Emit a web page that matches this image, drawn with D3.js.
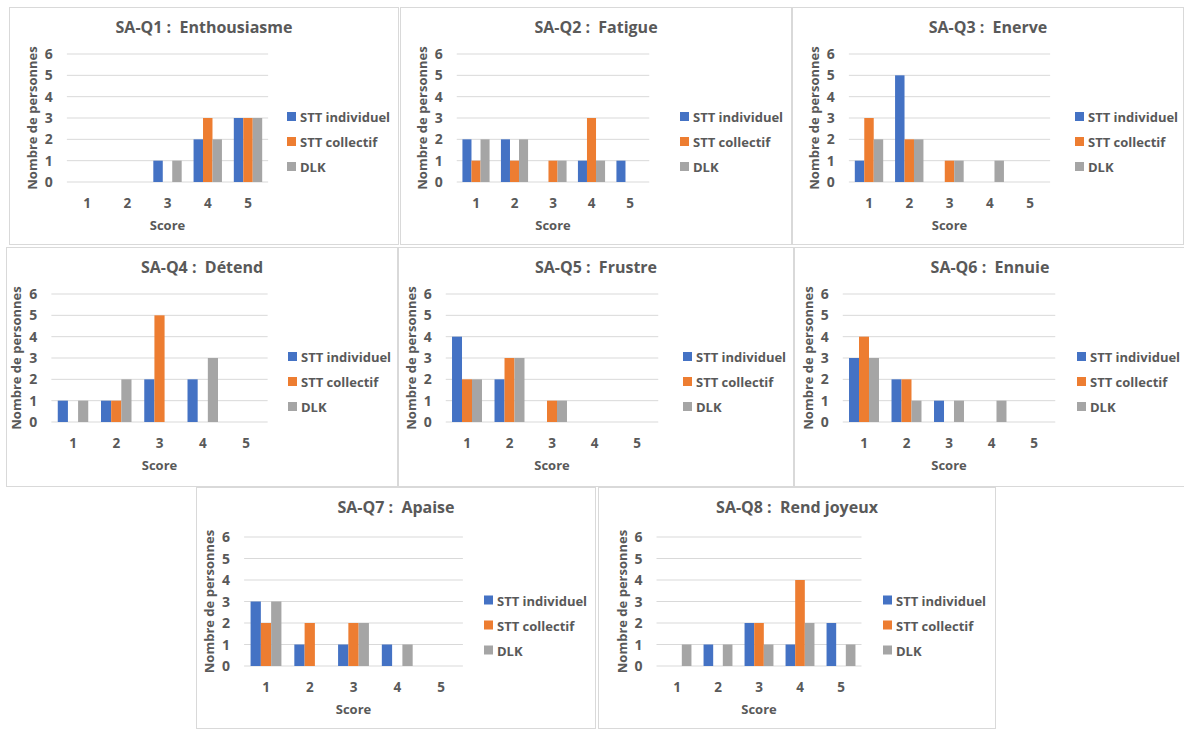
<!DOCTYPE html><html><head><meta charset="utf-8"><script src="https://cdn.jsdelivr.net/npm/d3@7"></script>
<style>body{margin:0;background:#fff}svg{font-family:"Open Sans",sans-serif}text{white-space:pre}</style></head><body>
<script>
const categories=["1","2","3","4","5"];
const seriesNames=["STT individuel","STT collectif","DLK"];
const colors=["#4472C4","#ED7D31","#A5A5A5"];
const yTicks=[0,1,2,3,4,5,6];
const titles=["SA-Q1 :  Enthousiasme","SA-Q2 :  Fatigue","SA-Q3 :  Enerve","SA-Q4 :  Détend","SA-Q5 :  Frustre","SA-Q6 :  Ennuie","SA-Q7 :  Apaise","SA-Q8 :  Rend joyeux"];
const individuel=[[0,0,1,2,3],[2,2,0,1,1],[1,5,0,0,0],[1,1,2,2,0],[4,2,0,0,0],[3,2,1,0,0],[3,1,1,1,0],[0,1,2,1,2]];
const collectif=[[0,0,0,3,3],[1,1,1,3,0],[3,2,1,0,0],[0,1,5,0,0],[2,3,1,0,0],[4,2,0,0,0],[2,2,2,0,0],[0,0,2,4,0]];
const dlk=[[0,0,1,2,3],[2,2,1,1,0],[2,2,1,1,0],[1,2,0,3,0],[2,3,1,0,0],[3,1,1,1,0],[3,0,2,1,0],[1,1,1,2,1]];
const panels=[
 [9,399,7,245,87,248,287,182,54],
 [400,792,7,245,476,630,680,182,54],
 [792,1184,7,245,869,1030,1075,182,54],
 [6,398,247,487,73,246,288,422,294],
 [398,794,247,487,467,637,683,422,294],
 [794,1186,247,487,864,1034,1077,422,294],
 [196,596,487,729,266,441,484,666,537],
 [598,996,487,729,677,841,883,666,537]];
const svg=d3.select("body").append("svg").attr("width",1184).attr("height",729);
panels.forEach((p,i)=>{
 const [fx0,fx1,fy0,fy1,c1,c5,lx,yz,ys]=p;
 const g=svg.append("g");
 g.append("rect").attr("x",fx0+0.5).attr("y",fy0+0.5).attr("width",fx1-fx0-1).attr("height",fy1-fy0-1).attr("fill","#fff").attr("stroke","#d9d9d9");
 const step=(c5-c1)/4;
 const x=d3.scaleBand().domain(categories).range([c1-step/2,c5+step/2]);
 const y=d3.scaleLinear().domain([0,6]).range([yz,ys]);
 const L=c1-step/2,R=c5+step/2;
 g.selectAll(".grid").data(yTicks).join("line").attr("x1",L).attr("x2",R).attr("y1",d=>y(d)).attr("y2",d=>y(d)).attr("stroke","#d9d9d9");
 g.selectAll(".yt").data(yTicks).join("text").attr("x",L-14).attr("y",d=>y(d)+5).attr("text-anchor","end").attr("font-size",14).attr("font-weight","bold").attr("fill","#595959").text(d=>d);
 g.selectAll(".xt").data(categories).join("text").attr("x",d=>x(d)+x.bandwidth()/2).attr("y",yz+26).attr("text-anchor","middle").attr("font-size",13.5).attr("font-weight","bold").attr("fill","#595959").text(d=>d);
 g.append("text").attr("x",(L+R)/2).attr("y",yz+48).attr("text-anchor","middle").attr("font-size",13).attr("font-weight","bold").attr("fill","#595959").text("Score");
 g.append("text").attr("transform",`translate(${L-30},${(yz+ys)/2}) rotate(-90)`).attr("text-anchor","middle").attr("font-size",13).attr("font-weight","bold").attr("fill","#595959").text("Nombre de personnes");
 g.append("text").attr("x",(fx0+fx1)/2).attr("y",fy0+26).attr("text-anchor","middle").attr("font-size",16).attr("font-weight","bold").attr("fill","#595959").text(titles[i]);
 const bw=x.bandwidth()*0.235;
 const sub=d3.scaleBand().domain([0,1,2]).range([-1.5*bw,1.5*bw]);
 [individuel[i],collectif[i],dlk[i]].forEach((vals,s)=>{
  g.selectAll(".b"+s).data(vals).join("rect").attr("x",(d,k)=>x(categories[k])+x.bandwidth()/2+sub(s)).attr("width",sub.bandwidth()).attr("y",d=>y(d)).attr("height",d=>yz-y(d)).attr("fill",colors[s]);
 });
 const ly=(yz+ys)/2-1;
 seriesNames.forEach((n,s)=>{
  g.append("rect").attr("x",lx).attr("y",ly+s*25-5).attr("width",9).attr("height",9).attr("fill",colors[s]);
  g.append("text").attr("x",lx+13).attr("y",ly+s*25+5).attr("font-size",13).attr("font-weight","bold").attr("fill","#595959").text(n);
 });
});
</script></body></html>
